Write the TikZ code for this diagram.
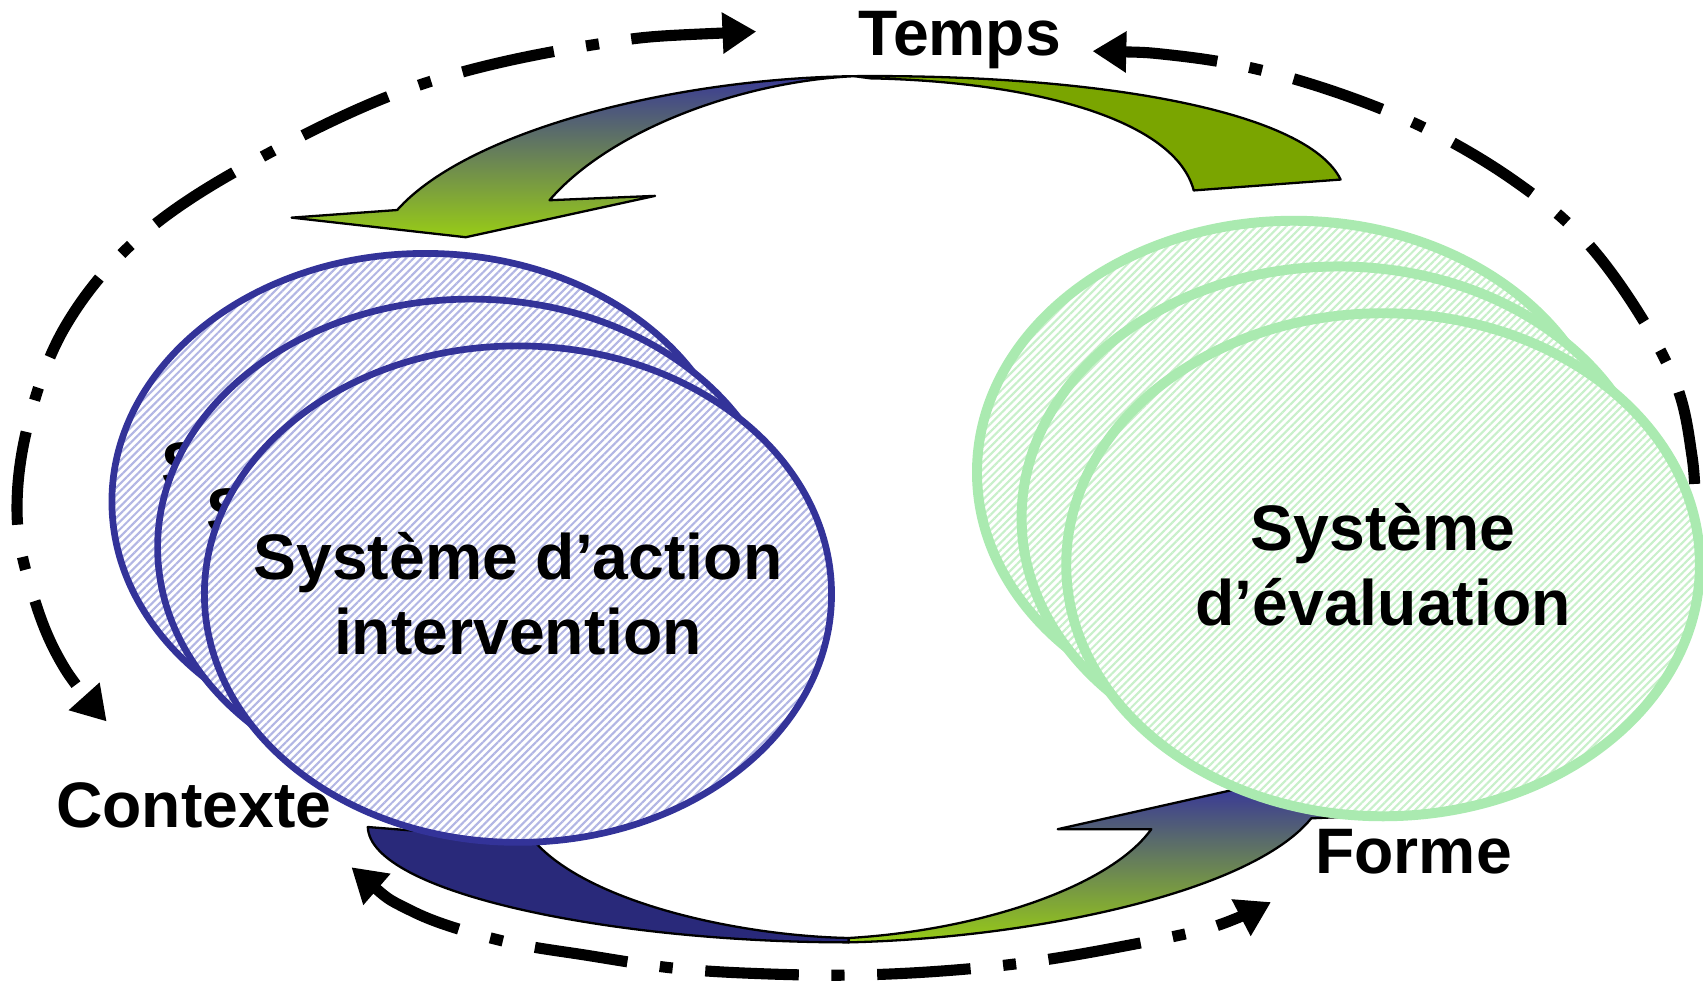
\documentclass[tikz,border=0pt]{standalone}
\usepackage{fontspec}
\setmainfont{Liberation Sans}
\usepackage{tikz}
\usetikzlibrary{arrows.meta}
\usetikzlibrary{shapes.geometric,patterns.meta}
\definecolor{actline}{RGB}{51,51,153}
\definecolor{acthatch}{RGB}{178,182,228}
\definecolor{evalline}{RGB}{170,234,176}
\definecolor{evalhatch}{RGB}{200,240,202}
\definecolor{arrblue}{RGB}{58,58,150}
\definecolor{arrgreen}{RGB}{152,204,22}
\definecolor{backolive}{RGB}{122,165,0}
\definecolor{navyband}{RGB}{41,41,122}
\tikzset{
	ring/.style={line width=2.9pt, dash pattern=on 0.86cm off 0.3cm on 0.12cm off 0.3cm},
	bigarrow/.style={draw=black, line width=0.6pt, line join=round},
	actell/.style={ellipse, draw=actline, line width=1.75pt, inner sep=0pt,
		minimum width=5.76cm, minimum height=4.56cm, preaction={fill=white},
		pattern={Lines[angle=45,distance=1.4pt,line width=0.55pt]}, pattern color=acthatch},
	evalell/.style={ellipse, draw=evalline, line width=2.6pt, inner sep=0pt,
		minimum width=5.82cm, minimum height=4.62cm, preaction={fill=white},
		pattern={Lines[angle=45,distance=1.4pt,line width=0.55pt]}, pattern color=evalhatch},
	systxt/.style={font=\fontsize{16.8}{19.6}\selectfont\bfseries, align=center, inner sep=0pt},
	lbl/.style={font=\fontsize{16.8}{19.6}\selectfont\bfseries, inner sep=0pt, anchor=base},
}

\begin{document}
\begin{tikzpicture}[x=0.01cm,y=-0.01cm,>={Triangle[length=3.1mm,width=3.6mm]}]
	\useasboundingbox (0,0) rectangle (1565,903);
	% dash-dot ring
	\draw[ring,<->] plot[smooth,tension=.6] coordinates {(695,29) (540,42) (380,80) (230,150) (127,219) (60,300) (25,393) (16,480) (34,558) (60,615) (98,663)};
	\draw[ring,<-] plot[smooth,tension=.6] coordinates {(1004,47) (1080,51) (1157,64) (1240,89) (1316,121) (1390,165) (1452,216) (1503,283) (1541,355) (1555,420) (1558,465)};
	\draw[ring,<->] plot[smooth,tension=.6] coordinates {(323,797) (380,838) (459,864) (540,878) (622,890) (705,895) (788,896) (870,892) (947,884) (1030,870) (1114,852) (1168,829)};
	% curved arrows
	\draw[bigarrow,top color=arrblue,bottom color=arrgreen] (785,70) .. controls (620,72) and (430,120) .. (365,193) -- (268,200) -- (428,218) -- (602,180) -- (505,184) .. controls (560,120) and (680,75) .. (785,70) -- cycle;
	\draw[bigarrow,fill=backolive] (785,70) .. controls (1000,68) and (1200,100) .. (1232,165) -- (1097,175) .. controls (1080,110) and (950,75) .. (800,72) -- cycle;
	\draw[bigarrow,fill=navyband] (338,760) .. controls (340,820) and (560,866) .. (780,866) -- (780,862) .. controls (680,860) and (540,830) .. (490,772) -- cycle;
	\draw[bigarrow,top color=arrblue,bottom color=arrgreen] (780,866) .. controls (950,862) and (1150,820) .. (1205,752) -- (1300,748) -- (1137,725) -- (972,762) -- (1058,762) .. controls (1020,815) and (900,855) .. (780,862) -- cycle;
	% action
	\node[actell] (act1) at (391,461) {};
	\node[systxt] (acttxt1) at (act1) {Système d’action\\intervention};
	\node[actell] (act2) at (433,503) {};
	\node[systxt] (acttxt2) at (act2) {Système d’action\\intervention};
	\node[actell] (act3) at (476,546) {};
	\node[systxt] (acttxt3) at (act3) {Système d’action\\intervention};
	% evaluation
	\node[evalell] (eval1) at (1189,434) {};
	\node[systxt] (evaltxt1) at (eval1) {Système\\d’évaluation};
	\node[evalell] (eval2) at (1230,476) {};
	\node[systxt] (evaltxt2) at (eval2) {Système\\d’évaluation};
	\node[evalell] (eval3) at (1271,519) {};
	\node[systxt] (evaltxt3) at (eval3) {Système\\d’évaluation};
	\node[lbl] (temps) at (882,51) {Temps};
	\node[lbl] (contexte) at (178,760) {Contexte};
	\node[lbl] (forme) at (1299,803) {Forme};
\end{tikzpicture}
\end{document}
